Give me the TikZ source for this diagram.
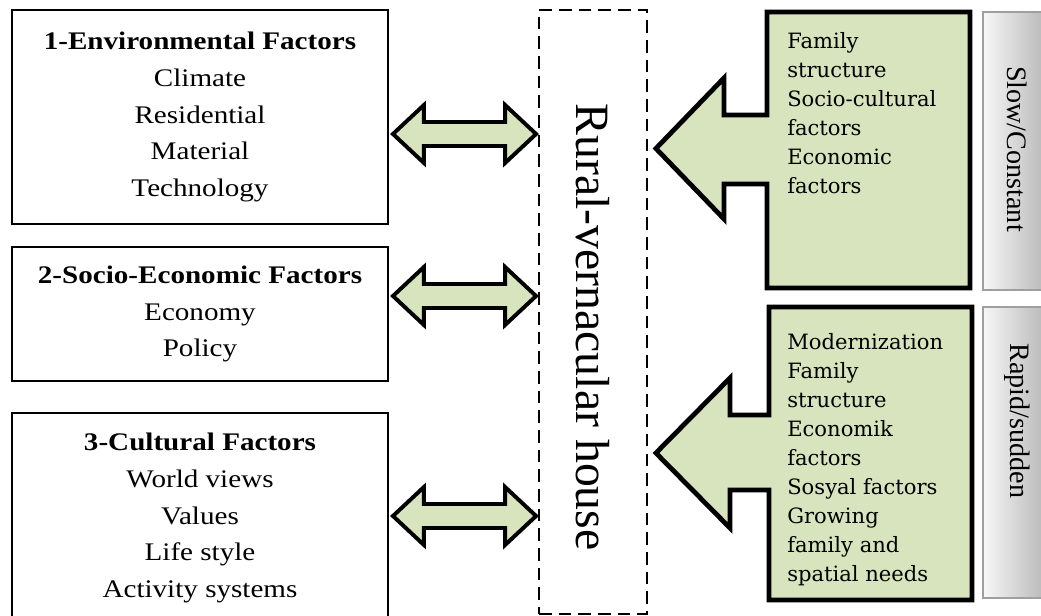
\documentclass[tikz,border=0pt]{standalone}
\usepackage{fontspec}
\setmainfont{Liberation Serif}
\newfontfamily\boxfont[FakeStretch=1.15]{Liberation Serif}
\newfontfamily\listfont{DejaVu Serif}
\usetikzlibrary{calc}

\definecolor{olivefill}{RGB}{215,228,189}

\tikzset{
  factorbox/.style={
    draw, line width=1.3pt, minimum width=9.4cm, inner sep=0pt,
    align=center, font=\boxfont\fontsize{18}{26}\selectfont
  },
  housebox/.style={
    draw, line width=1.3pt, dash pattern=on 9pt off 5pt,
    minimum width=2.7cm, minimum height=15.1cm
  },
  twoway/.style={draw, line width=2.8pt, fill=olivefill, line join=miter},
  bigarrow/.style={draw, line width=3.4pt, fill=olivefill, line join=miter},
  itemlist/.style={
    anchor=north west, inner sep=0pt, align=left,
    font=\listfont\fontsize{15}{20.6}\selectfont
  },
  speedbox/.style={
    left color=gray!6, right color=gray!55, draw=gray!75,
    line width=0.8pt, minimum width=1.55cm
  },
  speedlabel/.style={rotate=-90, font=\fontsize{20}{24}\selectfont}
}

% double arrow between two tips on one line
\newcommand{\dblarrow}[2]{%
  \draw[twoway]
    (#1) -- ($(#1)+(\hl,-\hh)$) -- ($(#1)+(\hl,-\sh)$)
    -- ($(#2)+(-\hl,-\sh)$) -- ($(#2)+(-\hl,-\hh)$)
    -- (#2)
    -- ($(#2)+(-\hl,\hh)$) -- ($(#2)+(-\hl,\sh)$)
    -- ($(#1)+(\hl,\sh)$) -- ($(#1)+(\hl,\hh)$) -- cycle;}

\begin{document}
\begin{tikzpicture}[x=0.025cm, y=-0.025cm]
  \def\hl{31}
  \def\hh{29}
  \def\sh{12}

  \useasboundingbox (0,0) rectangle (1041,616);
  \clip (0,0) rectangle (1041,616);

  % Factor boxes
  \node[factorbox, minimum height=5.35cm] (env) at (200,117)
    {\bfseries 1-Environmental Factors\\Climate\\Residential\\Material\\Technology};
  \node[factorbox, minimum height=3.35cm] (socio) at (200,314)
    {\bfseries 2-Socio-Economic Factors\\Economy\\Policy};
  \node[factorbox, minimum height=5.25cm] (culture) at (200,518)
    {\bfseries 3-Cultural Factors\\World views\\Values\\Life style\\Activity systems};

  % House
  \node[housebox] (house) at (593,312) {};
  \node[rotate=-90, font=\fontsize{34}{40}\selectfont] (housetext) at (593,327)
    {Rural-vernacular house};

  % Two-way arrows
  \coordinate (a1l) at ($(env.east)+(4,17)$);
  \coordinate (a1r) at ($(house.west |- a1l)+(-2,0)$);
  \coordinate (a2l) at ($(socio.east)+(4,-18)$);
  \coordinate (a2r) at ($(house.west |- a2l)+(-2,0)$);
  \coordinate (a3l) at ($(culture.east)+(4,-2)$);
  \coordinate (a3r) at ($(house.west |- a3l)+(-2,0)$);
  \dblarrow{a1l}{a1r}
  \dblarrow{a2l}{a2r}
  \dblarrow{a3l}{a3r}

  % Slow/constant change
  \coordinate (t1) at ($(house.east |- 0,148.5)+(8,0)$);
  \draw[bigarrow]
    (970,12) -- (767,12) -- (767,115) -- (724,115) -- (724,78)
    -- (t1)
    -- (724,219) -- (724,184) -- (767,184) -- (767,288) -- (970,288) -- cycle;
  \node[itemlist] (slowlist) at (787,32)
    {Family\\structure\\Socio-cultural\\factors\\Economic\\factors};

  % Rapid/sudden change
  \coordinate (t2) at ($(house.east |- 0,453)+(8,0)$);
  \draw[bigarrow]
    (972,307) -- (769,307) -- (769,415) -- (730,415) -- (730,378)
    -- (t2)
    -- (730,528) -- (730,490) -- (769,490) -- (769,600) -- (972,600) -- cycle;
  \node[itemlist] (rapidlist) at (787,333)
    {Modernization\\Family\\structure\\Economik\\factors\\Sosyal factors\\Growing\\family and\\spatial needs};

  % Speed of change
  \node[speedbox, minimum height=6.95cm] (slowbox) at (1014,151) {};
  \node[speedlabel] (slowtext) at (1017,149) {Slow/Constant};
  \node[speedbox, minimum height=7.275cm] (rapidbox) at (1014,452.5) {};
  \node[speedlabel] (rapidtext) at (1017,421) {Rapid/sudden};
\end{tikzpicture}
\end{document}
